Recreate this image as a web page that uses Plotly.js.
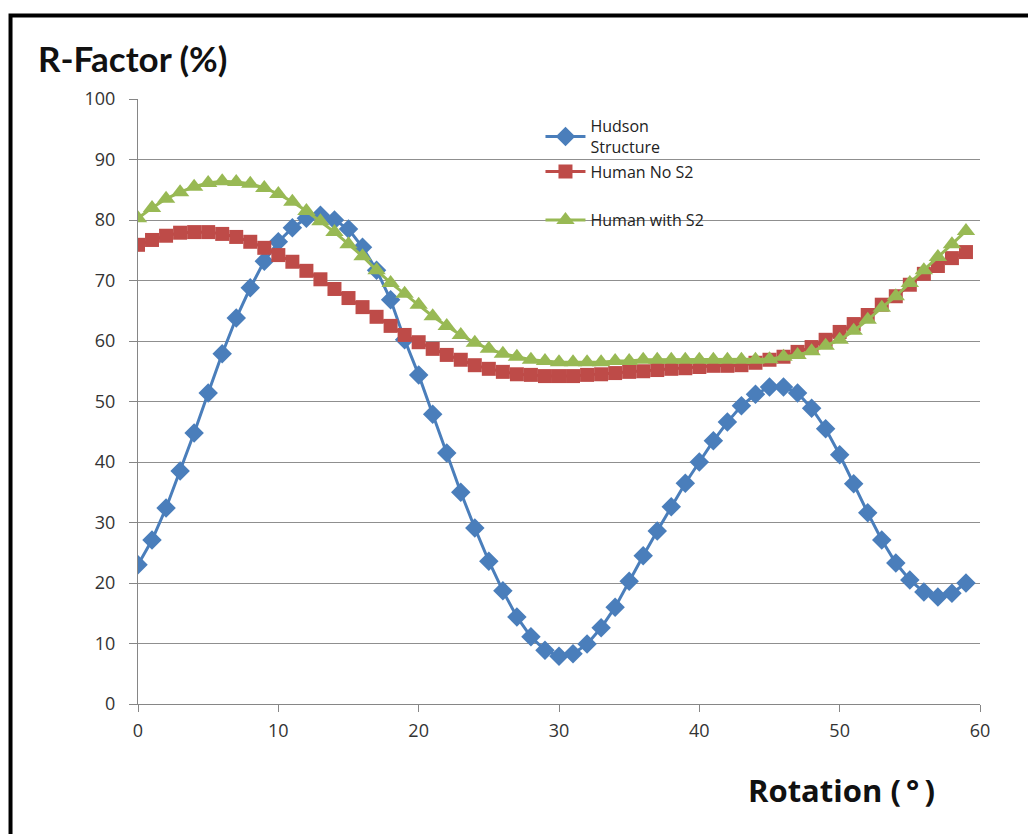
<!DOCTYPE html>
<html>
<head>
<meta charset="utf-8">
<script src="https://cdn.plot.ly/plotly-3.0.1.min.js"></script>
<style>html,body{margin:0;padding:0;background:#fff;}#chart{width:1028px;height:834px;}</style>
</head>
<body>
<div id="chart"></div>
<script>
const rotation = [0,1,2,3,4,5,6,7,8,9,10,11,12,13,14,15,16,17,18,19,20,21,22,23,24,25,26,27,28,29,30,31,32,33,34,35,36,37,38,39,40,41,42,43,44,45,46,47,48,49,50,51,52,53,54,55,56,57,58,59];
const hudson = [23.0,27.1,32.4,38.5,44.8,51.4,57.9,63.8,68.8,73.2,76.4,78.7,80.3,80.8,80.0,78.5,75.5,71.7,66.8,60.2,54.4,47.9,41.5,35.0,29.1,23.6,18.7,14.4,11.1,8.9,7.9,8.3,9.9,12.6,16.0,20.3,24.5,28.6,32.6,36.5,40.0,43.5,46.6,49.3,51.2,52.4,52.4,51.4,48.9,45.5,41.2,36.4,31.6,27.1,23.3,20.5,18.5,17.7,18.3,20.0];
const humanNoS2 = [75.9,76.7,77.4,77.9,78.0,78.0,77.7,77.2,76.4,75.4,74.2,73.1,71.6,70.2,68.6,67.1,65.6,64.0,62.5,61.0,59.8,58.7,57.7,56.9,56.0,55.4,54.9,54.5,54.4,54.2,54.2,54.2,54.4,54.5,54.7,54.9,55.0,55.2,55.4,55.5,55.7,55.9,55.9,56.0,56.4,56.9,57.4,58.2,59.0,60.2,61.5,62.8,64.3,66.0,67.4,69.3,71.1,72.4,73.7,74.7];
const humanWithS2 = [80.3,82.0,83.5,84.6,85.5,86.1,86.4,86.3,86.0,85.3,84.3,83.0,81.5,79.8,78.0,76.0,74.0,71.7,69.6,67.8,66.0,64.1,62.5,61.0,59.7,58.7,57.9,57.4,56.9,56.7,56.5,56.5,56.5,56.5,56.7,56.7,56.9,56.9,56.9,56.9,56.9,56.9,56.9,56.9,56.9,57.0,57.4,57.7,58.3,59.2,60.2,61.7,63.5,65.5,67.4,69.6,71.7,73.9,76.0,78.2];
const seriesNames = ['Hudson<br>Structure','Human No S2','Human with S2'];
const xTicks = [0,10,20,30,40,50,60];
const yTicks = [0,10,20,30,40,50,60,70,80,90,100];

const font = 'Open Sans, Noto Sans, sans-serif';
const traces = [
  {x: rotation, y: hudson, name: seriesNames[0], mode: 'lines+markers', legend: 'legend',
   line: {color: '#4A7EBB', width: 3}, marker: {symbol: 'diamond', size: 15, color: '#4A7EBB'}},
  {x: rotation, y: humanNoS2, name: seriesNames[1], mode: 'lines+markers', legend: 'legend2',
   line: {color: '#BE4B48', width: 3}, marker: {symbol: 'square', size: 14, color: '#BE4B48'}},
  {x: rotation, y: humanWithS2, name: seriesNames[2], mode: 'lines+markers', legend: 'legend3',
   line: {color: '#98B954', width: 3}, marker: {symbol: 'triangle-up', size: 16, color: '#98B954'}}
];
const legStyle = {font: {family: font, size: 16, color: '#222'}, bgcolor: 'rgba(0,0,0,0)', borderwidth: 0, xanchor: 'left', yanchor: 'top', itemwidth: 40};
const layout = {
  width: 1028, height: 834,
  margin: {l: 138, r: 48, t: 99, b: 130},
  paper_bgcolor: '#fff', plot_bgcolor: '#fff',
  showlegend: true,
  legend: Object.assign({}, legStyle, {x: 0.478, y: 0.983}),
  legend2: Object.assign({}, legStyle, {x: 0.478, y: 0.908}),
  legend3: Object.assign({}, legStyle, {x: 0.478, y: 0.828}),
  xaxis: {range: [0, 60], tickvals: xTicks, showgrid: false, zeroline: false, showline: true,
          linecolor: '#868686', linewidth: 1, ticks: 'outside', ticklen: 7, tickcolor: '#868686',
          ticklabelstandoff: 3,
          tickfont: {family: font, size: 18, color: '#333'}, fixedrange: true},
  yaxis: {range: [0, 100], tickvals: yTicks, showgrid: true, gridcolor: '#8f8f8f', gridwidth: 1,
          zeroline: false, showline: true, linecolor: '#868686', linewidth: 1, ticks: 'outside',
          ticklen: 8, tickcolor: '#868686', ticklabelstandoff: 10,
          tickfont: {family: font, size: 18, color: '#333'}, fixedrange: true},
  annotations: [
    {text: '<b>R-Factor (%)</b>', xref: 'paper', yref: 'paper', x: -0.121, y: 1.068, xanchor: 'left', yanchor: 'middle',
     showarrow: false, font: {family: 'Lato, sans-serif', size: 35, color: '#111'}},
    {text: '<b>Rotation (\u2009°\u2009)</b>', xref: 'paper', yref: 'paper', x: 0.7215, y: -0.142, xanchor: 'left', yanchor: 'middle',
     showarrow: false, font: {family: font, size: 31, color: '#111'}}
  ],
  shapes: [
    {type: 'rect', xref: 'paper', yref: 'paper', x0: -0.1514, x1: 1.2, y0: -0.4, y1: 1.138,
     line: {color: '#000', width: 4}, fillcolor: 'rgba(0,0,0,0)'}
  ]
};
Plotly.newPlot('chart', traces, layout, {displayModeBar: false, staticPlot: true});
</script>
</body>
</html>
